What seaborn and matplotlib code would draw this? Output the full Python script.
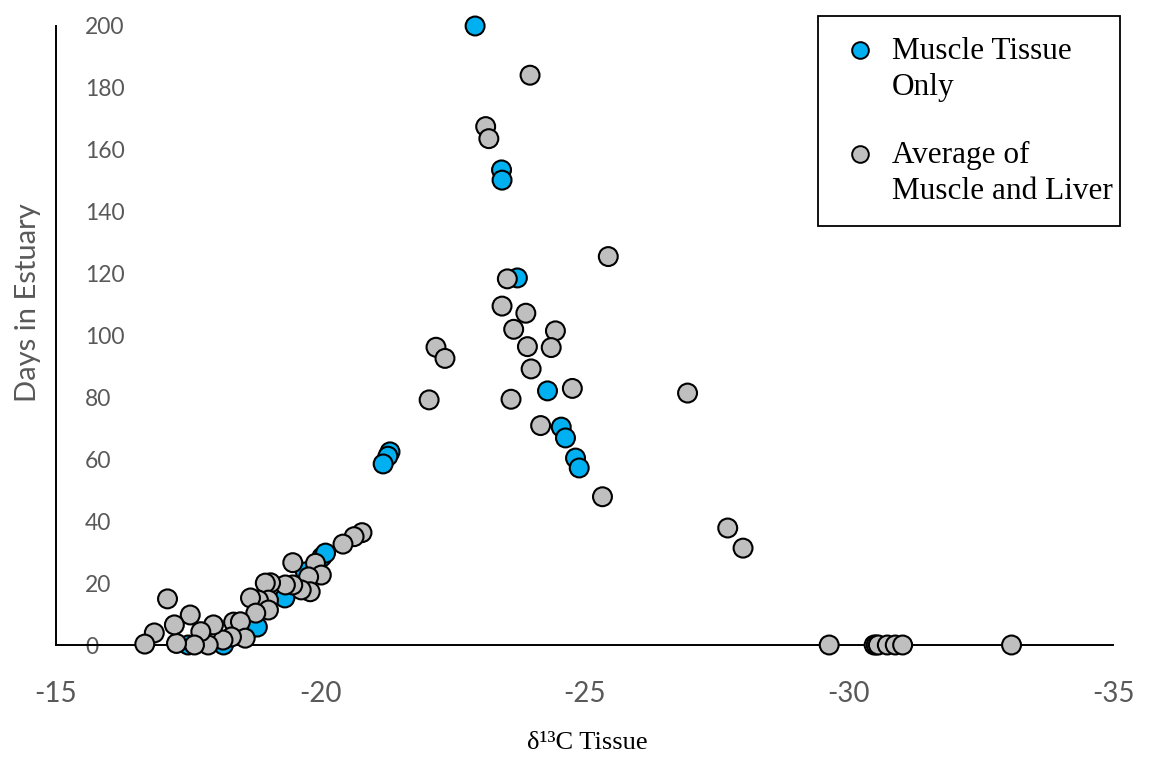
import numpy as np
import pandas as pd
import matplotlib
matplotlib.use("Agg")
import matplotlib.pyplot as plt
from matplotlib.lines import Line2D
from matplotlib.patches import Rectangle
import seaborn as sns

# Fish sampled from muscle tissue only
muscle_d13c = [-22.93, -23.43, -23.44, -23.73, -24.30, -24.56, -24.64, -24.83, -24.90,
               -21.32, -21.28, -21.19, -20.03, -20.10, -19.72, -19.33, -18.70, -18.81,
               -17.50, -18.17]
muscle_days = [200.0, 153.5, 150.2, 118.6, 82.1, 70.4, 66.9, 60.4, 57.2,
               62.4, 61.0, 58.5, 28.4, 29.7, 23.6, 15.2, 5.5, 5.8,
               0.0, 0.0]

# Fish with the average of muscle and liver values
avg_d13c = [-23.97, -23.13, -23.19, -25.45, -23.54, -23.44, -23.89, -23.66, -24.45,
            -22.19, -22.36, -23.92, -24.37, -23.99, -24.77, -22.06, -23.61, -24.17,
            -25.34, -26.95, -27.71, -28.00,
            -20.79, -20.64, -20.43, -19.91, -19.48, -20.02, -19.78, -19.81, -19.64,
            -19.48, -19.34, -19.06, -18.96, -19.02, -18.83, -18.68, -19.02, -18.78,
            -18.36, -18.49, -18.58, -18.32, -18.16, -17.98, -17.88, -17.74, -17.62,
            -17.54, -17.28, -17.24, -17.11, -16.86, -16.68,
            -29.63, -30.48, -30.52, -30.56, -30.73, -30.88, -31.02, -33.08]
avg_days = [184.1, 167.5, 163.6, 125.5, 118.3, 109.5, 107.2, 102.0, 101.5,
            96.2, 92.6, 96.4, 96.1, 89.2, 82.9, 79.2, 79.4, 70.9,
            47.9, 81.4, 37.8, 31.3,
            36.3, 35.0, 32.6, 26.4, 26.6, 22.6, 22.0, 17.2, 17.8,
            19.4, 19.4, 20.1, 20.0, 14.5, 14.5, 15.2, 11.3, 10.3,
            7.4, 7.5, 2.2, 2.6, 1.6, 6.5, 0.0, 4.3, 0.0,
            9.7, 0.5, 6.5, 14.9, 3.9, 0.3,
            0.0, 0.0, 0.0, 0.0, 0.0, 0.0, 0.0, 0.0]

series_names = ["Muscle Tissue\nOnly", "Average of\nMuscle and Liver"]
series_colors = ["#00B0F0", "#BFBFBF"]
x_ticks = [-15, -20, -25, -30, -35]
y_ticks = [0, 20, 40, 60, 80, 100, 120, 140, 160, 180, 200]

df = pd.DataFrame({
    "d13c": muscle_d13c + avg_d13c,
    "days": muscle_days + avg_days,
    "group": [series_names[0]] * len(muscle_d13c) + [series_names[1]] * len(avg_d13c),
})

sns.set_theme(style="white")
plt.rcParams["font.family"] = ["Lato", "DejaVu Sans"]

fig = plt.figure(figsize=(11.5, 7.59), dpi=100)
ax = fig.add_axes([56 / 1150, 1 - 645 / 759, (1113 - 56) / 1150, (645 - 26) / 759])

sns.scatterplot(data=df, x="d13c", y="days", hue="group",
                palette=dict(zip(series_names, series_colors)),
                s=185, edgecolor="black", linewidth=1.5, legend=False,
                clip_on=False, zorder=3, ax=ax)

ax.set_xlim(-15, -35)
ax.set_ylim(0, 200)
ax.set_xticks(x_ticks)
ax.set_xticklabels([str(v) for v in x_ticks])
ax.set_yticks(y_ticks)
ax.set_yticklabels([str(v) for v in y_ticks])

for side in ["top", "right"]:
    ax.spines[side].set_visible(False)
for side in ["left", "bottom"]:
    ax.spines[side].set_color("black")
    ax.spines[side].set_linewidth(1.4)

tick_grey = "#595959"
ax.tick_params(axis="x", length=0, pad=26, labelsize=20, labelcolor=tick_grey)
ax.tick_params(axis="y", length=0, pad=-21, labelsize=16.5, labelcolor=tick_grey)
for tick in ax.yaxis.get_major_ticks():
    tick.label1.set_horizontalalignment("left")

ax.set_ylabel("Days in Estuary", fontsize=21, color=tick_grey)
ax.yaxis.set_label_coords(-0.014, 0.5525)
ax.set_xlabel("δ¹³C Tissue", fontsize=19, color="black", family="Liberation Serif")
ax.xaxis.set_label_coords(0.503, -0.140)

# Boxed key in the upper right corner
W, H = 1150, 759
box = Rectangle((818 / W, 1 - 226 / H), (1120 - 818) / W, (226 - 16) / H,
                transform=fig.transFigure, facecolor="white", edgecolor="black",
                linewidth=1.3, zorder=5)
fig.add_artist(box)
key_rows = [50, 154]
for name, color, yrow in zip(series_names, series_colors, key_rows):
    fig.add_artist(Line2D([860 / W], [1 - yrow / H], transform=fig.transFigure,
                          marker="o", markersize=12, markerfacecolor=color,
                          markeredgecolor="black", markeredgewidth=1.4,
                          linestyle="none", zorder=6))
    fig.text(892 / W, 1 - (yrow - 13) / H, name, ha="left", va="top",
             fontsize=22.5, family="Liberation Serif", color="black",
             linespacing=1.33, zorder=6)

fig.savefig("out.png", dpi=100)
